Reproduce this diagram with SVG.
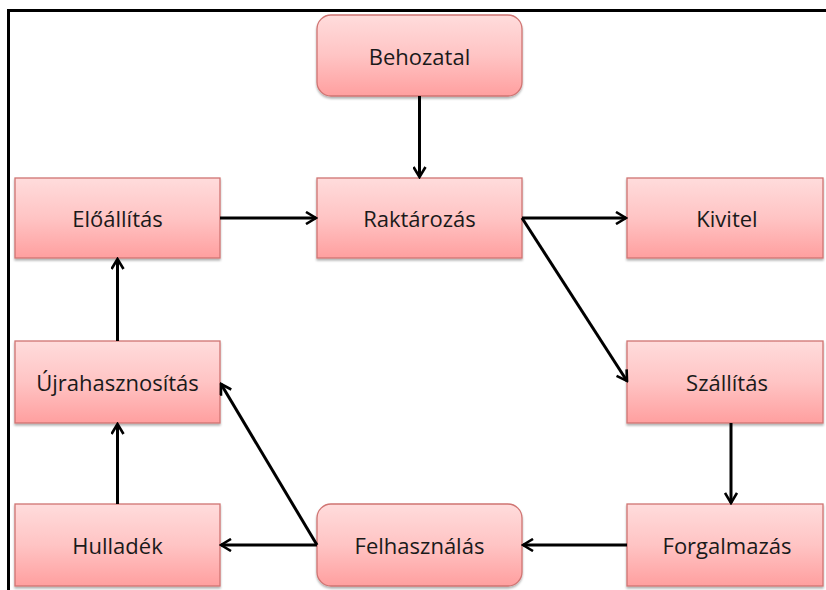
<svg xmlns="http://www.w3.org/2000/svg" width="826" height="590" viewBox="0 0 826 590">
<defs>
<linearGradient id="g" x1="0" y1="0" x2="0" y2="1">
<stop offset="0" stop-color="#ffdcdc"/>
<stop offset="0.5" stop-color="#ffc4c4"/>
<stop offset="1" stop-color="#ff9f9f"/>
</linearGradient>
<filter id="sh" x="-5%" y="-5%" width="110%" height="115%">
<feDropShadow dx="0" dy="2" stdDeviation="1.2" flood-color="#000" flood-opacity="0.3"/>
</filter>
<marker id="ah" viewBox="0 0 14 14" refX="12" refY="7" markerWidth="14" markerHeight="14" markerUnits="userSpaceOnUse" orient="auto">
<polyline points="2,1 12,7 2,13" fill="none" stroke="#000" stroke-width="2.6"/>
</marker>
</defs>
<style>
.n{fill:url(#g);stroke:#d07472;stroke-width:1.3;filter:url(#sh)}
.t{font-family:"Open Sans","Liberation Sans",sans-serif;font-size:22px;fill:#1a1a1a;text-anchor:middle;dominant-baseline:central}
.c{stroke:#000;stroke-width:3;fill:none;marker-end:url(#ah)}
</style>
<rect width="826" height="590" fill="#fff"/>
<path d="M8.5,590 V10.5 H826" fill="none" stroke="#000" stroke-width="3"/>
<g id="behozatal"><rect class="n" x="317" y="15" width="205" height="81" rx="14"/><text class="t" x="419.5" y="56">Behozatal</text></g>
<g id="eloallitas"><rect class="n" x="15" y="178" width="205" height="80"/><text class="t" x="117.5" y="218">Előállítás</text></g>
<g id="raktarozas"><rect class="n" x="317" y="178" width="205" height="80"/><text class="t" x="419.5" y="218">Raktározás</text></g>
<g id="kivitel"><rect class="n" x="627" y="178" width="196" height="80"/><text class="t" x="727" y="218">Kivitel</text></g>
<g id="ujrahasznositas"><rect class="n" x="15" y="341" width="205" height="82"/><text class="t" x="117.5" y="382">Újrahasznosítás</text></g>
<g id="szallitas"><rect class="n" x="627" y="341" width="196" height="82"/><text class="t" x="727" y="382">Szállítás</text></g>
<g id="hulladek"><rect class="n" x="15" y="504" width="205" height="82"/><text class="t" x="117.5" y="545">Hulladék</text></g>
<g id="felhasznalas"><rect class="n" x="317" y="504" width="205" height="82" rx="14"/><text class="t" x="419.5" y="545">Felhasználás</text></g>
<g id="forgalmazas"><rect class="n" x="627" y="504" width="196" height="82"/><text class="t" x="727" y="545">Forgalmazás</text></g>
<g id="connectors">
<line class="c" x1="419.5" y1="96" x2="419.5" y2="177"/>
<line class="c" x1="220" y1="218" x2="316" y2="218"/>
<line class="c" x1="522" y1="218" x2="626" y2="218"/>
<line class="c" x1="522" y1="218" x2="627" y2="381"/>
<line class="c" x1="731" y1="423" x2="731" y2="503"/>
<line class="c" x1="627" y1="545" x2="523" y2="545"/>
<line class="c" x1="317" y1="545" x2="221" y2="545"/>
<line class="c" x1="317" y1="545" x2="221" y2="384"/>
<line class="c" x1="117.5" y1="504" x2="117.5" y2="424"/>
<line class="c" x1="117.5" y1="341" x2="117.5" y2="259"/>
</g>
</svg>
